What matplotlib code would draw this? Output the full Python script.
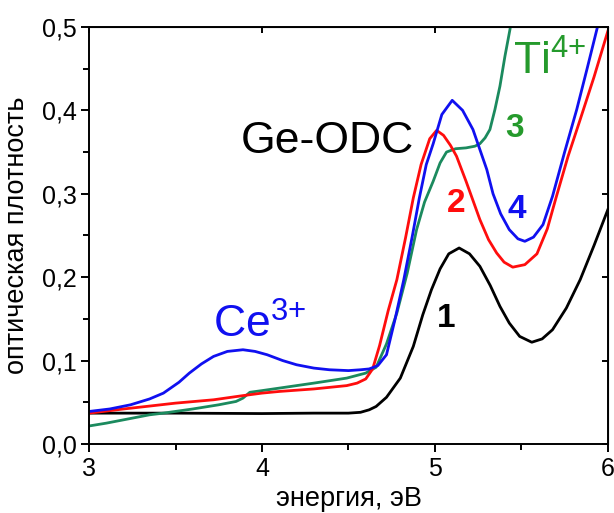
import numpy as np
import matplotlib
matplotlib.use('Agg')
import matplotlib.pyplot as plt
from matplotlib.ticker import MultipleLocator

plt.rcParams['font.family'] = ['Liberation Sans', 'DejaVu Sans']
plt.rcParams['mathtext.fontset'] = 'custom'
plt.rcParams['mathtext.rm'] = 'Liberation Sans'
plt.rcParams['mathtext.it'] = 'Liberation Sans:italic'
plt.rcParams['mathtext.bf'] = 'Liberation Sans:bold'

# curve 1 (black), reference sample
e1 = [3.0, 3.5, 4.0, 4.3, 4.5, 4.57, 4.62, 4.66, 4.72, 4.8, 4.875, 4.93, 4.98, 5.03, 5.08, 5.14,
      5.2, 5.26, 5.32, 5.376, 5.43, 5.49, 5.56, 5.62, 5.68, 5.76, 5.84, 5.92, 6.0]
d1 = [0.037, 0.037, 0.0365, 0.037, 0.037, 0.038, 0.041, 0.045, 0.056, 0.079, 0.117, 0.155, 0.185, 0.21, 0.228, 0.235,
      0.228, 0.213, 0.19, 0.165, 0.145, 0.129, 0.122, 0.126, 0.137, 0.163, 0.197, 0.238, 0.281]

# curve 2 (red)
e2 = [3.0, 3.2, 3.33, 3.5, 3.72, 3.89, 4.0, 4.1, 4.3, 4.49, 4.55, 4.6, 4.64, 4.68, 4.73, 4.78,
      4.83, 4.875, 4.92, 4.97, 5.01, 5.05, 5.09, 5.125, 5.18, 5.26, 5.31, 5.357, 5.4, 5.45,
      5.52, 5.59, 5.65, 5.7, 5.77, 5.84, 5.92, 6.0]
d2 = [0.037, 0.042, 0.045, 0.049, 0.053, 0.058, 0.061, 0.063, 0.066, 0.07, 0.073, 0.078, 0.09, 0.118, 0.16, 0.197,
      0.247, 0.295, 0.335, 0.366, 0.376, 0.37, 0.358, 0.345, 0.315, 0.269, 0.245, 0.229, 0.218, 0.212,
      0.215, 0.228, 0.258, 0.295, 0.345, 0.389, 0.44, 0.495]

# curve 3 (green), Ti4+
e3 = [3.0, 3.1, 3.25, 3.35, 3.43, 3.6, 3.75, 3.85, 3.89, 3.93, 4.0, 4.1, 4.3, 4.49, 4.6, 4.66,
      4.72, 4.78, 4.84, 4.894, 4.94, 4.99, 5.03, 5.067, 5.12, 5.18, 5.231, 5.26, 5.29, 5.318,
      5.347, 5.376, 5.405, 5.434, 5.45]
d3 = [0.0216, 0.025, 0.031, 0.035, 0.037, 0.042, 0.047, 0.051, 0.055, 0.062, 0.064, 0.067, 0.073, 0.079, 0.085, 0.092,
      0.12, 0.157, 0.205, 0.257, 0.29, 0.315, 0.337, 0.35, 0.354, 0.355, 0.357, 0.36, 0.367, 0.377,
      0.401, 0.429, 0.465, 0.497, 0.52]

# curve 4 (blue), Ce3+
e4 = [3.0, 3.12, 3.24, 3.35, 3.43, 3.52, 3.58, 3.65, 3.72, 3.8, 3.89, 3.96, 4.03, 4.12, 4.2, 4.3,
      4.39, 4.5, 4.57, 4.62, 4.67, 4.72, 4.77, 4.82, 4.87, 4.91, 4.95, 4.99, 5.04, 5.1,
      5.16, 5.22, 5.26, 5.3, 5.336, 5.38, 5.43, 5.48, 5.52, 5.57, 5.625, 5.68, 5.75, 5.82, 5.88, 5.94, 5.96]
d4 = [0.039, 0.042, 0.047, 0.054, 0.061, 0.074, 0.085, 0.096, 0.105, 0.111, 0.113, 0.111, 0.107, 0.1, 0.095, 0.091,
      0.089, 0.088, 0.089, 0.09, 0.094, 0.107, 0.15, 0.197, 0.25, 0.295, 0.335, 0.36, 0.395, 0.412,
      0.4, 0.377, 0.353, 0.329, 0.3, 0.276, 0.257, 0.246, 0.243, 0.248, 0.263, 0.297, 0.35, 0.401, 0.45, 0.5, 0.515]

xticks = [3, 4, 5, 6]
xtick_labels = ['3', '4', '5', '6']
yticks = [0.0, 0.1, 0.2, 0.3, 0.4, 0.5]
ytick_labels = ['0,0', '0,1', '0,2', '0,3', '0,4', '0,5']

fig = plt.figure(figsize=(6.14, 5.13), dpi=100)
ax = fig.add_axes([0.145, 0.1345, 0.845, 0.813])

lw = 2.0
ax.plot(e1, d1, color='black', lw=lw)
ax.plot(e3, d3, color='#1b8a5e', lw=lw)
ax.plot(e2, d2, color='#ff0d0d', lw=lw)
ax.plot(e4, d4, color='#1010f0', lw=lw)

ax.set_xlim(3, 6)
ax.set_ylim(0, 0.5)
ax.set_xticks(xticks)
ax.set_xticklabels(xtick_labels)
ax.set_yticks(yticks)
ax.set_yticklabels(ytick_labels)
ax.xaxis.set_minor_locator(MultipleLocator(0.5))
ax.yaxis.set_minor_locator(MultipleLocator(0.05))
ax.tick_params(which='major', direction='out', length=6, width=1.4, labelsize=18, pad=3)
ax.tick_params(which='minor', direction='out', length=4, width=1.4)
for s in ax.spines.values():
    s.set_linewidth(1.4)

# mirror ticks on top/right pointing inward
top = ax.secondary_xaxis('top')
top.set_xticks(xticks)
top.tick_params(direction='in', length=4, width=1.4, labeltop=False)
right = ax.secondary_yaxis('right')
right.set_yticks(yticks)
right.tick_params(direction='in', length=4, width=1.4, labelright=False)

ax.set_xlabel('энергия, эВ', fontsize=19.5)
ax.set_ylabel('оптическая плотность', fontsize=19.5)
ax.xaxis.set_label_coords(0.5, -0.1)
ax.yaxis.set_label_coords(-0.114, 0.5)

ax.text(4.38, 0.349, 'Ge-ODC', fontsize=32, ha='center', va='baseline', color='black')
ax.text(5.064, 0.140, '1', fontsize=24, fontweight='bold', ha='center', va='baseline', color='black')
ax.text(5.121, 0.2785, '2', fontsize=24, fontweight='bold', ha='center', va='baseline', color='#ff0d0d')
ax.text(5.462, 0.3685, '3', fontsize=24, fontweight='bold', ha='center', va='baseline', color='#259a2c')
ax.text(5.474, 0.271, '4', fontsize=24, fontweight='bold', ha='center', va='baseline', color='#1010f0')
ax.text(5.451, 0.443, r'$\mathregular{Ti^{4{+}}}$', fontsize=32, ha='left', va='baseline', color='#259a2c')
ax.text(3.717, 0.127, r'$\mathregular{Ce^{3{+}}}$', fontsize=32, ha='left', va='baseline', color='#1010f0')

fig.savefig('out.png', dpi=100)
